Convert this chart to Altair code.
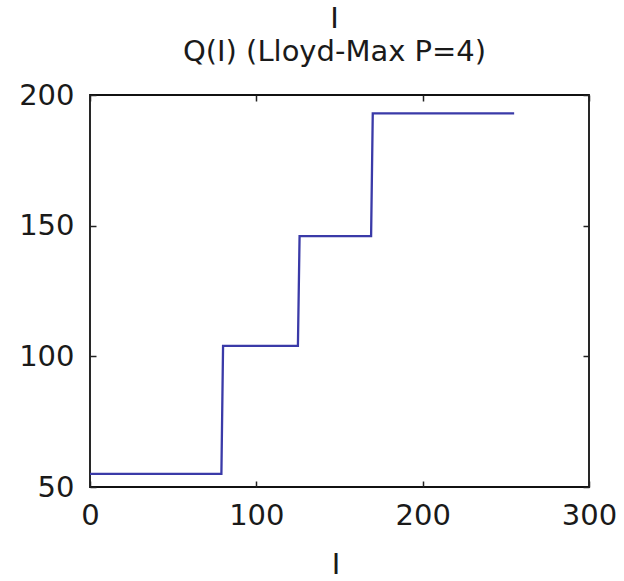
import altair as alt
import pandas as pd

# Step function Q(I) for Lloyd-Max quantizer, P=4
I_vals = [0, 79, 80, 125, 126, 169, 170, 255]
Q_vals = [55, 55, 104, 104, 146, 146, 193, 193]

x_ticks = [0, 100, 200, 300]
y_ticks = [50, 100, 150, 200]

df = pd.DataFrame({"I": I_vals, "Q": Q_vals, "order": list(range(len(I_vals)))})

W, H = 499, 392
FONT = "DejaVu Sans"
xscale = alt.Scale(domain=[0, 300], nice=False, zero=False)
yscale = alt.Scale(domain=[50, 200], nice=False, zero=False)

base = alt.Chart(df)

main = base.mark_line(color="#3a3aa8", strokeWidth=2.3).encode(
    x=alt.X("I:Q", scale=xscale,
            axis=alt.Axis(orient="bottom", values=x_ticks, ticks=False, domain=False,
                          grid=False, labelPadding=14, labelFlush=False,
                          labelOverlap=False, title="I",
                          titleBaseline="alphabetic", titleY=86, titleX=W / 2 - 4)),
    y=alt.Y("Q:Q", scale=yscale,
            axis=alt.Axis(orient="left", values=y_ticks, ticks=False, domain=False,
                          grid=False, labelPadding=16, labelFlush=False,
                          labelOverlap=False, title=None)),
    order="order:Q",
)

tick_axis = dict(labels=False, domain=False, grid=False, title=None,
                 ticks=True, tickSize=6, tickWidth=1.5, tickColor="#222")

# inward ticks on bottom and left edges
inner1 = base.mark_point(opacity=0).encode(
    x=alt.X("I:Q", scale=xscale,
            axis=alt.Axis(orient="top", offset=-H, values=x_ticks, **tick_axis)),
    y=alt.Y("Q:Q", scale=yscale,
            axis=alt.Axis(orient="right", offset=-W, values=y_ticks, **tick_axis)),
)

# inward ticks on top and right edges
inner2 = base.mark_point(opacity=0).encode(
    x=alt.X("I:Q", scale=xscale,
            axis=alt.Axis(orient="bottom", offset=-H, values=x_ticks, **tick_axis)),
    y=alt.Y("Q:Q", scale=yscale,
            axis=alt.Axis(orient="left", offset=-W, values=y_ticks, **tick_axis)),
)

chart = (
    alt.layer(main, inner1, inner2)
    .resolve_axis(x="independent", y="independent")
    .properties(
        width=W,
        height=H,
        title=alt.TitleParams(
            text=["I", "Q(I) (Lloyd-Max P=4)"],
            font=FONT, fontSize=29, fontWeight="normal", color="#1a1a1a",
            lineHeight=33, anchor="middle", offset=14, dx=-5,
        ),
        padding={"left": 90, "top": 95, "right": 35, "bottom": 94},
        autosize=alt.AutoSizeParams(type="none"),
        background="white",
    )
    .configure_view(stroke="#111", strokeWidth=1.8)
    .configure_axis(labelFont=FONT, labelFontSize=29, labelColor="#1a1a1a",
                    titleFont=FONT, titleFontSize=29, titleFontWeight="normal",
                    titleColor="#1a1a1a")
)

chart.save("out.html", embed_options={"renderer": "svg", "actions": False})
